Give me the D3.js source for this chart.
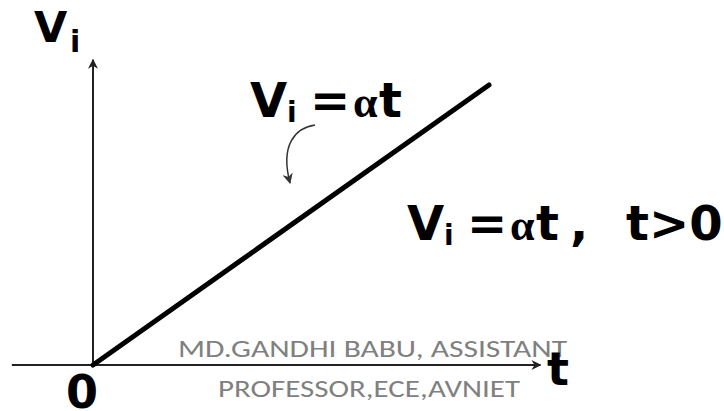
<!DOCTYPE html>
<html>
<head>
<meta charset="utf-8">
<script src="https://cdn.jsdelivr.net/npm/d3@7"></script>
<style>
  body { margin: 0; background: #fff; }
  .bold { font-family: 'DejaVu Sans', Verdana, sans-serif; font-weight: bold; fill: #000; }
  .alpha { font-family: 'Liberation Serif', 'DejaVu Serif', serif; fill: #000; }
  .mark { font-family: Carlito, Calibri, Lato, sans-serif; fill: #808080; }
</style>
</head>
<body>
<svg id="ramp" width="724" height="411"></svg>
<script>
// ramp input  Vi = alpha * t  (normalised units)
const timeValues = [0, 1]
const voltageValues = [0, 1]
const xAxisExtent = [-0.205, 1.13]
const yAxisExtent = [0, 1.09]
const watermark = ['MD.GANDHI BABU, ASSISTANT', 'PROFESSOR,ECE,AVNIET']

function main() {
    let svg = d3.select('#ramp')

    let x = d3.scaleLinear().domain([0, 1]).range([93, 489]),
        y = d3.scaleLinear().domain([0, 1]).range([365, 85])

    let defs = svg.append('defs')
    defs.append('marker')
        .attr('id', 'head')
        .attr('viewBox', '0 0 10 10')
        .attr('refX', 9).attr('refY', 5)
        .attr('markerWidth', 5).attr('markerHeight', 5)
        .attr('markerUnits', 'strokeWidth')
        .attr('orient', 'auto')
        .append('path')
        .attr('d', 'M0,0 L10,5 L0,10 L3,5 Z')
        .attr('fill', '#222')

    defs.append('marker')
        .attr('id', 'head2')
        .attr('viewBox', '0 0 10 10')
        .attr('refX', 9).attr('refY', 5)
        .attr('markerWidth', 7).attr('markerHeight', 7)
        .attr('markerUnits', 'strokeWidth')
        .attr('orient', 'auto')
        .append('path')
        .attr('d', 'M0,0 L10,5 L0,10 L3,5 Z')
        .attr('fill', '#333')

    // axes
    svg.append('line')
        .attr('x1', x(xAxisExtent[0])).attr('y1', y(0))
        .attr('x2', x(xAxisExtent[1])).attr('y2', y(0))
        .attr('stroke', '#222').attr('stroke-width', 2)
        .attr('marker-end', 'url(#head)')

    svg.append('line')
        .attr('x1', x(0)).attr('y1', y(yAxisExtent[0]))
        .attr('x2', x(0)).attr('y2', y(yAxisExtent[1]))
        .attr('stroke', '#222').attr('stroke-width', 2)
        .attr('marker-end', 'url(#head)')

    // ramp
    let line = d3.line()
        .x((d, i) => x(timeValues[i]))
        .y(d => y(d))

    svg.append('path')
        .attr('d', line(voltageValues))
        .attr('fill', 'none')
        .attr('stroke', '#000')
        .attr('stroke-width', 5)
        .attr('stroke-linecap', 'round')

    // watermark
    svg.append('text').attr('class', 'mark')
        .attr('x', 178).attr('y', 357)
        .attr('font-size', 25)
        .attr('textLength', 389).attr('lengthAdjust', 'spacingAndGlyphs')
        .text(watermark[0])
    svg.append('text').attr('class', 'mark')
        .attr('x', 218).attr('y', 397)
        .attr('font-size', 25)
        .attr('textLength', 302).attr('lengthAdjust', 'spacingAndGlyphs')
        .text(watermark[1])

    // axis labels
    svg.append('text').attr('class', 'bold')
        .attr('x', 34).attr('y', 42).attr('font-size', 43).text('V')
    svg.append('text').attr('class', 'bold')
        .attr('x', 70).attr('y', 52).attr('font-size', 30).text('i')
    svg.append('text').attr('class', 'bold')
        .attr('x', 66).attr('y', 408).attr('font-size', 46).text('0')
    svg.append('text').attr('class', 'bold')
        .attr('x', 547).attr('y', 385).attr('font-size', 46).text('t')

    // equation near line
    function equation(x0, base, extra) {
        let g = svg.append('g')
        g.append('text').attr('class', 'bold')
            .attr('x', x0).attr('y', base).attr('font-size', 48).text('V')
        g.append('text').attr('class', 'bold')
            .attr('x', x0 + 37).attr('y', base + 5).attr('font-size', 28).text('i')
        g.append('text').attr('class', 'bold')
            .attr('x', x0 + 60).attr('y', base).attr('font-size', 48).text('=')
        g.append('text').attr('class', 'alpha')
            .attr('x', x0 + 103).attr('y', base).attr('font-size', 44).attr('font-weight', 'bold').text('α')
        g.append('text').attr('class', 'bold')
            .attr('x', x0 + 129).attr('y', base).attr('font-size', 48).text('t')
        if (extra) {
            g.append('text').attr('class', 'bold')
                .attr('x', x0 + 163).attr('y', base).attr('font-size', 48).text(',')
            g.append('text').attr('class', 'bold')
                .attr('x', x0 + 219).attr('y', base).attr('font-size', 48).text('t>0')
        }
    }
    equation(250, 117, false)
    equation(407, 240, true)

    // curved pointer
    svg.append('path')
        .attr('d', 'M315,125 C295,128 280,145 290,183')
        .attr('fill', 'none')
        .attr('stroke', '#333')
        .attr('stroke-width', 1.5)
        .attr('marker-end', 'url(#head2)')
}

main()
</script>
</body>
</html>
